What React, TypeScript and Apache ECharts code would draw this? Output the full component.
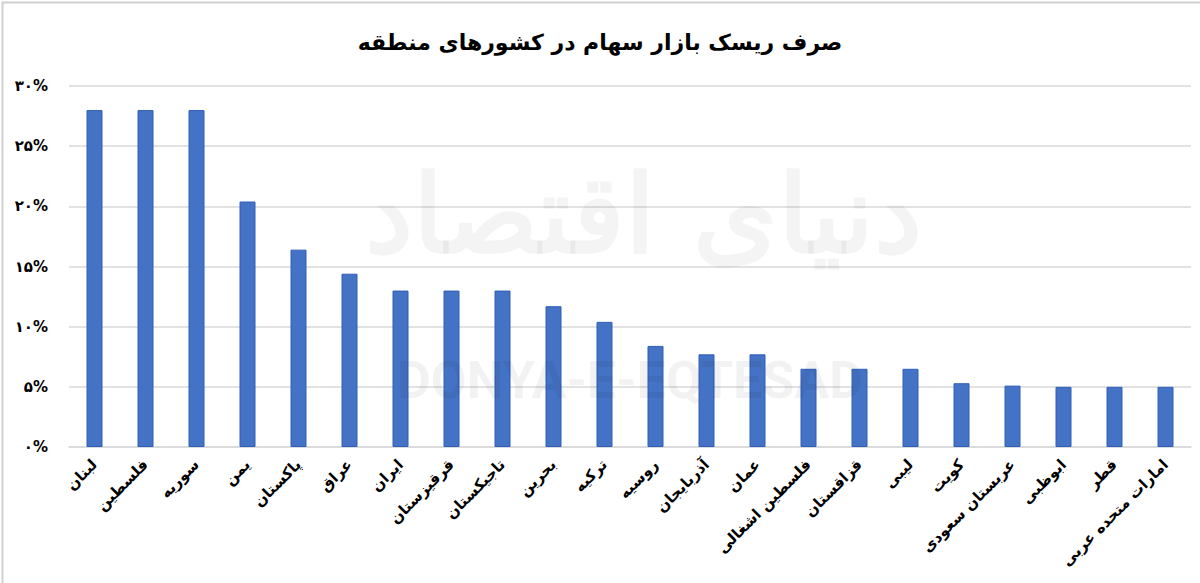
import React, { useEffect, useRef } from "react";
import * as echarts from "echarts";

const titleText = "صرف ریسک بازار سهام در کشورهای منطقه";

const categories = [
  "لبنان",
  "فلسطین",
  "سوریه",
  "یمن",
  "پاکستان",
  "عراق",
  "ایران",
  "قرقیزستان",
  "تاجیکستان",
  "بحرین",
  "ترکیه",
  "روسیه",
  "آذربایجان",
  "عمان",
  "فلسطین اشغالی",
  "قزاقستان",
  "لیبی",
  "کویت",
  "عربستان سعودی",
  "ابوظبی",
  "قطر",
  "امارات متحده عربی",
];

const values = [28, 28, 28, 20.4, 16.4, 14.4, 13, 13, 13, 11.7, 10.4, 8.4, 7.7, 7.7, 6.5, 6.5, 6.5, 5.3, 5.1, 5.0, 5.0, 5.0];

const yTicks = [0, 5, 10, 15, 20, 25, 30];

const persianDigits = ["۰", "۱", "۲", "۳", "۴", "۵", "۶", "۷", "۸", "۹"];
const toPersian = (n: number) =>
  String(n)
    .split("")
    .map((c) => (c >= "0" && c <= "9" ? persianDigits[Number(c)] : c))
    .join("");

const FONT = "'DejaVu Sans', 'Noto Sans', sans-serif";

export default function App() {
  const ref = useRef<HTMLDivElement>(null);
  useEffect(() => {
    document.body.style.margin = "0";
    if (!ref.current) return;
    const chart = echarts.init(ref.current, undefined, { renderer: "svg" });
    chart.setOption({
      animation: false,
      backgroundColor: "#ffffff",
      title: {
        text: titleText,
        left: "center",
        top: 26,
        textStyle: { fontFamily: FONT, fontWeight: "bold", fontSize: 22, color: "#000" },
      },
      grid: { left: 69, right: 9, top: 86, bottom: 136 },
      xAxis: {
        type: "category",
        data: categories,
        axisLine: { lineStyle: { color: "#d9d9d9", width: 1.5 } },
        axisTick: { show: false },
        axisLabel: {
          rotate: 45,
          interval: 0,
          margin: 15,
          fontFamily: FONT,
          fontWeight: "bold",
          fontSize: 15,
          color: "#000",
        },
      },
      yAxis: {
        type: "value",
        min: 0,
        max: yTicks[yTicks.length - 1],
        interval: 5,
        axisLine: { show: false },
        axisTick: { show: false },
        splitLine: { lineStyle: { color: "#d9d9d9", width: 1.5 } },
        axisLabel: {
          margin: 21,
          fontFamily: FONT,
          fontWeight: "bold",
          fontSize: 15,
          color: "#000",
          formatter: (v: number) => toPersian(v) + "%",
        },
      },
      series: [
        {
          type: "bar",
          data: values,
          barWidth: 16,
          itemStyle: { color: "#4472C4", borderColor: "#2f5fba", borderWidth: 1 },
        },
      ],
      graphic: [
        {
          type: "rect",
          left: 0,
          top: 0,
          shape: { width: 1199, height: 582 },
          style: { fill: "none", stroke: "#d0d0d0", lineWidth: 2 },
          z: 10,
        },
        {
          type: "text",
          left: 365,
          top: 160,
          style: {
            text: "دنیای اقتصاد",
            font: "bold 108px 'DejaVu Serif', serif",
            fill: "rgba(0,0,0,0.045)",
          },
          z: 20,
        },
        {
          type: "text",
          left: 397,
          top: 354,
          style: {
            text: "DONYA-E-EQTESAD",
            font: "bold 52px 'Roboto', 'DejaVu Sans', sans-serif",
            fill: "rgba(0,0,0,0.05)",
          },
          z: 20,
        },
      ],
    });
    return () => chart.dispose();
  }, []);
  return <div ref={ref} style={{ width: 1200, height: 583 }} />;
}
